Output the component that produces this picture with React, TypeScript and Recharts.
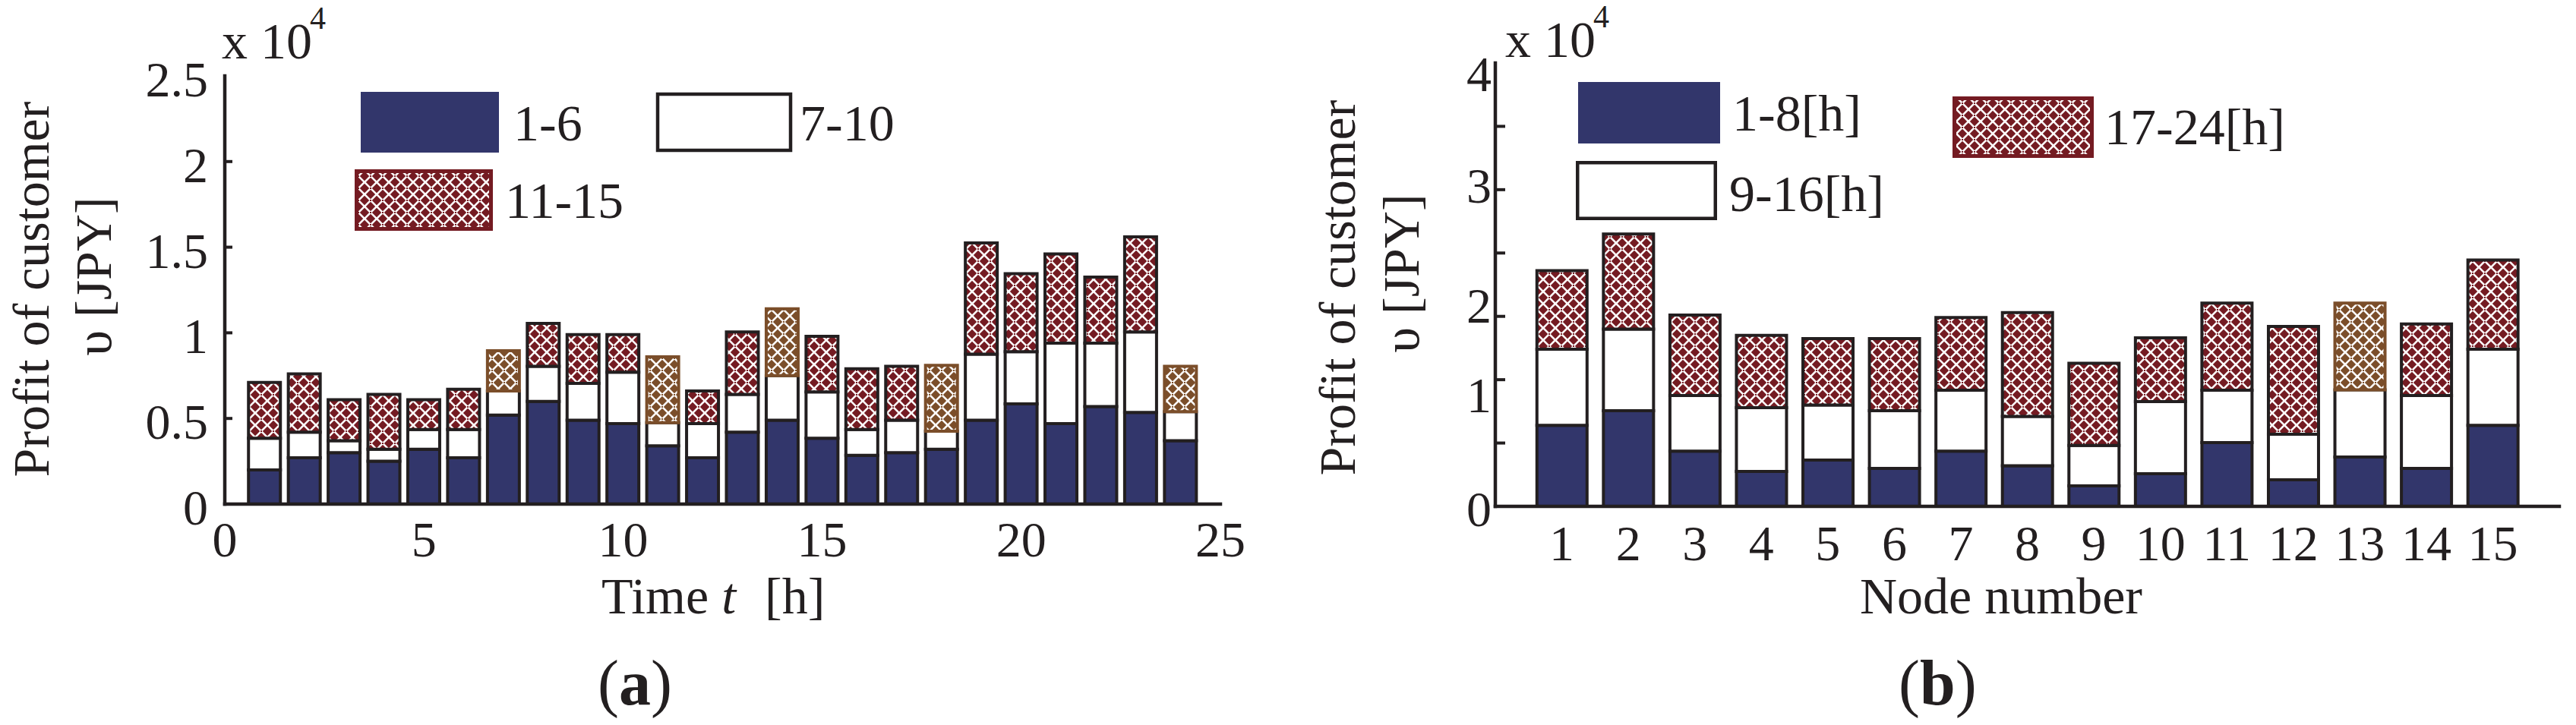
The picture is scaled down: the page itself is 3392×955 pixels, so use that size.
import React from 'react';
import { BarChart, Bar, XAxis, YAxis, Cell } from 'recharts';

// ---------------- data: panel (a) ----------------
const hoursA = [1, 2, 3, 4, 5, 6, 7, 8, 9, 10, 11, 12, 13, 14, 15, 16, 17, 18, 19, 20, 21, 22, 23, 24];
const profitA_1to6 = [2000, 2700, 3000, 2500, 3200, 2700, 5200, 6000, 4900, 4700, 3400, 2700, 4200, 4900, 3850, 2850, 3000, 3200, 4900, 5850, 4700, 5700, 5350, 3700];
const profitA_7to10 = [1850, 1500, 700, 700, 1150, 1650, 1400, 2050, 2150, 3000, 1350, 2000, 2200, 2600, 2700, 1500, 1900, 1050, 3850, 3050, 4700, 3700, 4700, 1700];
const profitA_11to15 = [3250, 3400, 2400, 3200, 1750, 2350, 2350, 2500, 2850, 2200, 3850, 1900, 3650, 3900, 3250, 3550, 3150, 3850, 6500, 4550, 5200, 3850, 5550, 2650];
const highlightA = [7, 11, 14, 18, 24];
const xTicksA = [0, 5, 10, 15, 20, 25];
const yTicksA = [0, 5000, 10000, 15000, 20000, 25000];
const legendA = ['1-6', '7-10', '11-15'];

// ---------------- data: panel (b) ----------------
const nodesB = [1, 2, 3, 4, 5, 6, 7, 8, 9, 10, 11, 12, 13, 14, 15];
const profitB_1to8 = [7310, 8630, 4990, 3150, 4180, 3430, 4990, 3660, 1850, 2950, 5750, 2400, 4460, 3430, 7310];
const profitB_9to16 = [6860, 7370, 5010, 5760, 4960, 5200, 5490, 4450, 3640, 6500, 4730, 4110, 6050, 6570, 6860];
const profitB_17to24 = [7090, 8570, 7260, 6520, 6000, 6510, 6550, 9380, 7420, 5750, 7860, 9720, 7830, 6460, 8060];
const highlightB = [13];
const xTicksB = [1, 2, 3, 4, 5, 6, 7, 8, 9, 10, 11, 12, 13, 14, 15];
const yMaxB = 40000;
const yTickCountB = 7;
const yTicksB = Array.from({ length: yTickCountB + 1 }, (_, i) => (i * yMaxB) / yTickCountB);
const yLabelsB = ['0', '', '1', '2', '', '3', '', '4'];
const legendB = ['1-8[h]', '9-16[h]', '17-24[h]'];

const dataA = hoursA.map((t, i) => ({
  t,
  g1: profitA_1to6[i],
  g2: profitA_7to10[i],
  g3: profitA_11to15[i],
  hl: highlightA.includes(t),
}));
const dataB = nodesB.map((n, i) => ({
  n,
  g1: profitB_1to8[i],
  g2: profitB_9to16[i],
  g3: profitB_17to24[i],
  hl: highlightB.includes(n),
}));

// ---------------- styles ----------------
const FONT = '"Liberation Serif", "Times New Roman", Times, serif';
const INK = '#231f20';
const NAVY = '#32366b';
const MAROON = '#741b22';
const BROWN = '#7b4e2a';
const TICK_FS = 66;
const TITLE_FS = 68;
const W = 1696;
const H = 955;
const yLabelDyB = [3, 0, 20, -15, 0, -6, 0, 14];

function Weave({ id, color }: { id: string; color: string }) {
  return (
    <pattern id={id} patternUnits="userSpaceOnUse" width={16} height={16}>
      <rect width={16} height={16} fill={color} />
      <path
        d="M0,0L16,16M16,0L0,16M-5,11L5,21M11,-5L21,5M-5,5L5,-5M11,21L21,11"
        stroke="#ffffff"
        strokeWidth={2.6}
      />
      <rect x={7} y={7} width={2} height={2} fill={color} />
    </pattern>
  );
}

const axisLine = { stroke: INK, strokeWidth: 4.5, strokeLinecap: 'square' as const };

// ---------- ticks (a) ----------
const LeftTickA = (p: any) => {
  const { x, y, payload } = p;
  const v = payload.value;
  return (
    <g>
      {v > 0 && v < 25000 && <line x1={x} x2={x + 10} y1={y} y2={y} stroke={INK} strokeWidth={4} />}
      <text x={x - 22} y={y + 27} textAnchor="end" fontSize={TICK_FS} fontFamily={FONT} fill={INK}>
        {String(v / 10000)}
      </text>
    </g>
  );
};
const RightTickA = (p: any) => {
  const { x, y, payload } = p;
  const v = payload.value;
  if (!(v > 0 && v < 25000)) return <g />;
  return <line x1={x} x2={x - 10} y1={y} y2={y} stroke={INK} strokeWidth={4} />;
};
const TopTickA = (p: any) => {
  const { x, y, payload } = p;
  const v = payload.value;
  if (!(v > 0 && v < 25)) return <g />;
  return <line x1={x} x2={x} y1={y} y2={y + 7} stroke={INK} strokeWidth={4} />;
};
const BottomTickA = (p: any) => {
  const { x, y, payload } = p;
  return (
    <text x={x} y={y + 69} textAnchor="middle" fontSize={TICK_FS} fontFamily={FONT} fill={INK}>
      {String(payload.value)}
    </text>
  );
};

// ---------- ticks (b) ----------
const LeftTickB = (p: any) => {
  const { x, y, index } = p;
  const inner = index > 0 && index < yTickCountB;
  return (
    <g>
      {inner && <line x1={x} x2={x + 13} y1={y} y2={y} stroke={INK} strokeWidth={4} />}
      <text x={x - 5} y={y + 23 + yLabelDyB[index]} textAnchor="end" fontSize={TICK_FS} fontFamily={FONT} fill={INK}>
        {yLabelsB[index]}
      </text>
    </g>
  );
};
const RightTickB = (p: any) => {
  const { x, y, index } = p;
  if (!(index > 0 && index < yTickCountB)) return <g />;
  return <line x1={x} x2={x - 14} y1={y} y2={y} stroke={INK} strokeWidth={4} />;
};
const TopTickB = (p: any) => {
  const { x, y } = p;
  return <line x1={x} x2={x} y1={y} y2={y + 7} stroke={INK} strokeWidth={4} />;
};
const BottomTickB = (p: any) => {
  const { x, y, payload } = p;
  return (
    <text x={x} y={y + 71} textAnchor="middle" fontSize={TICK_FS} fontFamily={FONT} fill={INK}>
      {String(payload.value)}
    </text>
  );
};

// ---------- titles ----------
function YTitle({ x1, y1, x2, y2, sx, sy }: any) {
  return (
    <g fontFamily={FONT} fill={INK}>
      <text transform={`translate(${x1},${y1}) rotate(-90)`} textAnchor="middle" fontSize={TITLE_FS}>
        Profit of customer
      </text>
      <text transform={`translate(${x2},${y2}) rotate(-90)`} textAnchor="middle" fontSize={TITLE_FS}>
        υ [JPY]
      </text>
      <text x={sx} y={sy} fontSize={TITLE_FS}>
        x 10
        <tspan dx={-3} dy={-39} fontSize={42}>
          4
        </tspan>
      </text>
    </g>
  );
}

function XTitleA() {
  return (
    <g fontFamily={FONT} fill={INK}>
      <text x={792} y={808} fontSize={TITLE_FS}>
        {'Time '}
        <tspan fontStyle="italic">t</tspan>
        <tspan dx={38}>[h]</tspan>
      </text>
      <text x={787} y={928} fontSize={84}>
        (<tspan fontWeight="bold">a</tspan>)
      </text>
    </g>
  );
}

function XTitleB() {
  return (
    <g fontFamily={FONT} fill={INK}>
      <text x={753} y={808} fontSize={TITLE_FS}>
        Node number
      </text>
      <text x={804} y={928} fontSize={84}>
        (<tspan fontWeight="bold">b</tspan>)
      </text>
    </g>
  );
}

function LegendA() {
  return (
    <g fontFamily={FONT} fontSize={68} fill={INK}>
      <rect x={475} y={121} width={182} height={80} fill={NAVY} />
      <text x={676} y={185}>{legendA[0]}</text>
      <rect x={866} y={124} width={175} height={74} fill="#ffffff" stroke={INK} strokeWidth={4.5} />
      <text x={1053} y={185}>{legendA[1]}</text>
      <rect x={469.5} y={225.5} width={177} height={76} fill="url(#weaveA-m)" stroke={MAROON} strokeWidth={5} />
      <text x={665} y={287}>{legendA[2]}</text>
    </g>
  );
}

function LegendB() {
  return (
    <g fontFamily={FONT} fontSize={68} fill={INK}>
      <rect x={382} y={108} width={187} height={81} fill={NAVY} />
      <text x={585} y={172}>{legendB[0]}</text>
      <rect x={381.25} y={214.25} width={181.5} height={73.5} fill="#ffffff" stroke={INK} strokeWidth={4.5} />
      <text x={581} y={278}>{legendB[1]}</text>
      <rect x={877.5} y={129.5} width={181} height={76} fill="url(#weaveB-m)" stroke={MAROON} strokeWidth={5} />
      <text x={1075} y={190}>{legendB[2]}</text>
    </g>
  );
}

function ChartA() {
  return (
    <BarChart width={W} height={H} data={dataA} margin={{ top: 100, right: 89, left: 0, bottom: 0 }} barSize={42}>
      <defs>
        <Weave id="weaveA-m" color={MAROON} />
        <Weave id="weaveA-b" color={BROWN} />
      </defs>
      <XAxis
        xAxisId="b"
        dataKey="t"
        type="number"
        domain={[0, 25]}
        ticks={xTicksA}
        interval={0}
        height={291}
        tickSize={0}
        tickMargin={0}
        tickLine={false}
        axisLine={axisLine}
        tick={BottomTickA}
        label={<XTitleA />}
      />
      <XAxis
        xAxisId="top"
        orientation="top"
        dataKey="t"
        type="number"
        domain={[0, 25]}
        ticks={xTicksA}
        interval={0}
        height={0}
        tickSize={0}
        tickMargin={0}
        tickLine={false}
        axisLine={axisLine}
        tick={TopTickA}
      />
      <YAxis
        yAxisId="l"
        type="number"
        domain={[0, 25000]}
        ticks={yTicksA}
        interval={0}
        width={296}
        tickSize={0}
        tickMargin={0}
        tickLine={false}
        axisLine={axisLine}
        tick={LeftTickA}
        label={<YTitle x1={64} y1={381} x2={146} y2={364} sx={292} sy={77} />}
      />
      <YAxis
        yAxisId="r"
        orientation="right"
        type="number"
        domain={[0, 25000]}
        ticks={yTicksA}
        interval={0}
        width={0}
        tickSize={0}
        tickMargin={0}
        tickLine={false}
        axisLine={axisLine}
        tick={RightTickA}
      />
      <Bar dataKey="g1" stackId="s" xAxisId="b" yAxisId="l" fill={NAVY} stroke={INK} strokeWidth={4} isAnimationActive={false} />
      <Bar dataKey="g2" stackId="s" xAxisId="b" yAxisId="l" fill="#ffffff" stroke={INK} strokeWidth={4} isAnimationActive={false} />
      <Bar dataKey="g3" stackId="s" xAxisId="b" yAxisId="l" strokeWidth={4} isAnimationActive={false}>
        {dataA.map((d) => (
          <Cell key={d.t} fill={d.hl ? 'url(#weaveA-b)' : 'url(#weaveA-m)'} stroke={d.hl ? BROWN : INK} />
        ))}
      </Bar>
      <LegendA />
    </BarChart>
  );
}

function ChartB() {
  return (
    <BarChart width={W} height={H} data={dataB} margin={{ top: 83, right: 22, left: 0, bottom: 0 }} barSize={66}>
      <defs>
        <Weave id="weaveB-m" color={MAROON} />
        <Weave id="weaveB-b" color={BROWN} />
      </defs>
      <XAxis
        xAxisId="b"
        dataKey="n"
        type="number"
        domain={[0, 16]}
        ticks={xTicksB}
        interval={0}
        height={288}
        tickSize={0}
        tickMargin={0}
        tickLine={false}
        axisLine={axisLine}
        tick={BottomTickB}
        label={<XTitleB />}
      />
      <XAxis
        xAxisId="top"
        orientation="top"
        dataKey="n"
        type="number"
        domain={[0, 16]}
        ticks={xTicksB}
        interval={0}
        height={0}
        tickSize={0}
        tickMargin={0}
        tickLine={false}
        axisLine={axisLine}
        tick={TopTickB}
      />
      <YAxis
        yAxisId="l"
        type="number"
        domain={[0, yMaxB]}
        ticks={yTicksB}
        interval={0}
        width={273}
        tickSize={0}
        tickMargin={0}
        tickLine={false}
        axisLine={axisLine}
        tick={LeftTickB}
        label={<YTitle x1={88} y1={379} x2={172} y2={360} sx={286} sy={75} />}
      />
      <YAxis
        yAxisId="r"
        orientation="right"
        type="number"
        domain={[0, yMaxB]}
        ticks={yTicksB}
        interval={0}
        width={0}
        tickSize={0}
        tickMargin={0}
        tickLine={false}
        axisLine={axisLine}
        tick={RightTickB}
      />
      <Bar dataKey="g1" stackId="s" xAxisId="b" yAxisId="l" fill={NAVY} stroke={INK} strokeWidth={4} isAnimationActive={false} />
      <Bar dataKey="g2" stackId="s" xAxisId="b" yAxisId="l" fill="#ffffff" stroke={INK} strokeWidth={4} isAnimationActive={false} />
      <Bar dataKey="g3" stackId="s" xAxisId="b" yAxisId="l" strokeWidth={4} isAnimationActive={false}>
        {dataB.map((d) => (
          <Cell key={d.n} fill={d.hl ? 'url(#weaveB-b)' : 'url(#weaveB-m)'} stroke={d.hl ? BROWN : INK} />
        ))}
      </Bar>
      <LegendB />
    </BarChart>
  );
}

export default function App() {
  return (
    <div style={{ position: 'absolute', left: 0, top: 0, width: 3392, height: 955, background: '#ffffff', overflow: 'hidden' }}>
      <div style={{ position: 'absolute', left: 0, top: 0, width: W, height: H }}>
        <ChartA />
      </div>
      <div style={{ position: 'absolute', left: W, top: 0, width: W, height: H }}>
        <ChartB />
      </div>
    </div>
  );
}
